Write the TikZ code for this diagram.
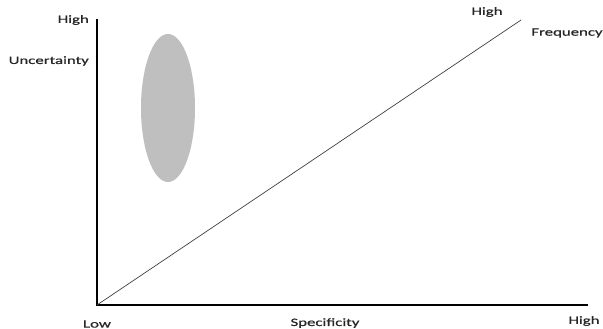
\documentclass[tikz,border=0pt]{standalone}
\usepackage{fontspec}
\usetikzlibrary{shapes.geometric}
\newfontfamily\lab[FakeStretch=1.5,FakeBold=0.6]{Carlito}
\begin{document}
\begin{tikzpicture}[x=1pt,y=-1pt,
  lbl/.style={font=\lab\fontsize{11.2}{13}\selectfont, inner sep=0pt, text=black!85},
  axis/.style={line width=1.3pt, black},
  diag/.style={line width=0.7pt, black!75}]
\useasboundingbox (0,0) rectangle (603,329);
\coordinate (o) at (97,305);
\coordinate (ytop) at (97,19);
\coordinate (xend) at (588,305);
\coordinate (dend) at (521,20);
\draw[axis] (ytop) -- (o) -- (xend);
\draw[diag] (o) -- (dend);
\node[ellipse, fill=black!25, minimum width=54pt, minimum height=148pt, inner sep=0pt, draw=none] (ell) at (168,108) {};
\node[lbl, anchor=east] (yhigh) at (89,20) {High};
\node[lbl, anchor=east] (unc) at (89,61) {Uncertainty};
\node[lbl] (dhigh) at (487,12) {High};
\node[lbl] (freq) at (567,33) {Frequency};
\node[lbl] (low) at (97,324) {Low};
\node[lbl] (spec) at (325,323) {Specificity};
\node[lbl] (xhigh) at (584,321) {High};
\end{tikzpicture}
\end{document}
